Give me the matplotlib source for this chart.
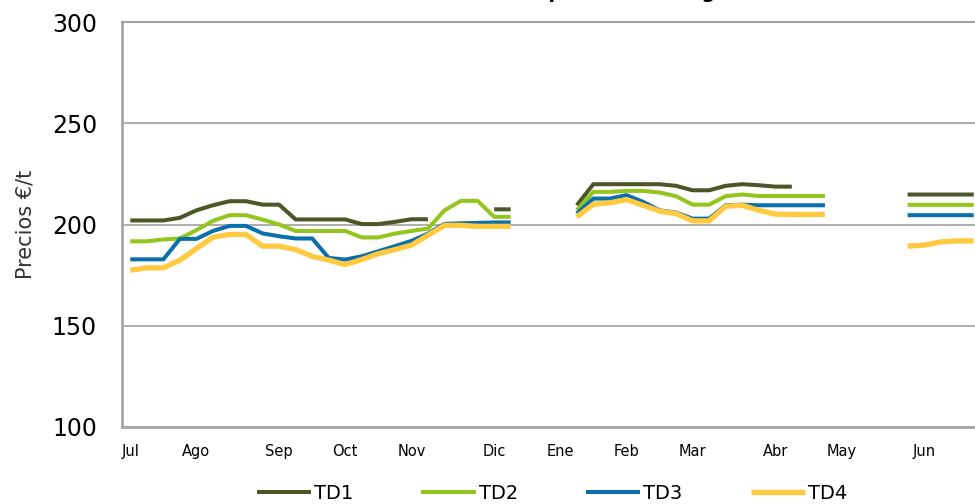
import matplotlib
matplotlib.use("Agg")
import matplotlib.pyplot as plt
import numpy as np

nan = np.nan

# weekly prices, campaign Jul -> Jun (52 weeks), gaps = no quotation
td1 = [202, 202, 202, 203.3, 207, 209.5, 211.5, 211.5, 209.8, 209.8,
       202.5, 202.5, 202.5, 202.5, 200.2, 200.2, 201.3, 202.6, 202.6, nan,
       nan, nan, 207.5, 207.5, nan, nan, nan, 209.5, 219.9, 219.9,
       219.9, 219.9, 219.9, 219.1, 216.9, 216.9, 219.1, 219.9, 219.4, 218.7,
       218.7, nan, nan, nan, nan, nan, nan, 214.8, 214.8, 214.8,
       214.8, 214.8]
td2 = [191.7, 191.7, 192.6, 193.1, 197.2, 201.8, 204.6, 204.6, 202.4, 200,
       196.8, 196.8, 196.8, 196.8, 193.6, 193.6, 195.5, 196.8, 198, 207,
       211.7, 211.7, 203.8, 203.8, nan, nan, nan, 207, 216.1, 216.1,
       216.6, 216.6, 215.8, 214, 209.8, 209.8, 214, 214.8, 214.1, 214.1,
       214.1, 214.1, 214.1, nan, nan, nan, nan, 209.7, 209.7, 209.7,
       209.7, 209.7]
td3 = [182.8, 182.8, 182.8, 192.9, 192.9, 196.8, 199.3, 199.3, 195.6, 194.2,
       193.1, 193.1, 183.5, 182.7, 184.3, 186.8, 189.3, 191.9, 195.5, 200.3,
       200.6, 200.8, 201, 201, nan, nan, nan, 205.4, 212.8, 212.8,
       214.5, 211.2, 207, 205.9, 202.9, 202.9, 209.5, 209.8, 209.5, 209.5,
       209.5, 209.5, 209.5, nan, nan, nan, nan, 204.6, 204.6, 204.6,
       204.6, 204.6]
td4 = [177.4, 178.6, 178.6, 182.4, 188.1, 193.7, 195.1, 195.1, 189.3, 189.3,
       187.6, 184.3, 182.4, 180.2, 182.7, 185.6, 187.6, 189.8, 194.7, 199.6,
       199.6, 199.1, 199.1, 199.1, nan, nan, nan, 203.8, 210, 210.7,
       212.3, 209.5, 206.6, 205.4, 201.8, 201.8, 209, 209.5, 207, 205.1,
       204.9, 204.9, 204.9, nan, nan, nan, nan, 189.3, 189.8, 191.4,
       191.9, 191.9]

month_labels = ["Jul", "Ago", "Sep", "Oct", "Nov", "Dic",
                "Ene", "Feb", "Mar", "Abr", "May", "Jun"]
month_weeks = [0, 4, 9, 13, 17, 22, 26, 30, 34, 39, 43, 48]

series = [("TD1", td1, "#4b5727", 2.9),
          ("TD2", td2, "#93c61c", 2.9),
          ("TD3", td3, "#0a6fab", 2.9),
          ("TD4", td4, "#ffca40", 3.8)]

fig = plt.figure(figsize=(9.75, 5.04), dpi=100)
# the plot area runs past the right edge of the picture, like the original crop
ax = fig.add_axes([122 / 975, 77 / 504, 860 / 975, 405 / 504])

weeks = np.arange(len(td1))
for name, vals, col, lw in series:
    ax.plot(weeks, vals, color=col, lw=lw, label=name, solid_capstyle="butt")

ax.set_xlim(-0.5, 51.5)
ax.set_ylim(100, 300)
ax.set_yticks([100, 150, 200, 250, 300])
ax.set_xticks(month_weeks)
ax.set_xticklabels(month_labels, fontsize=10.5)
ax.tick_params(axis="y", labelsize=17, pad=18, length=0)
ax.tick_params(axis="x", pad=12, length=0)
ax.yaxis.grid(True, color="#a0a0a0", lw=1.2)
ax.set_axisbelow(True)
for side in ["left", "bottom"]:
    ax.spines[side].set_color("#a6a6a6")
    ax.spines[side].set_linewidth(2)
ax.spines["top"].set_color("#a0a0a0")
ax.spines["top"].set_linewidth(1.5)
ax.spines["right"].set_visible(False)
ax.set_ylabel("Precios €/t", fontsize=15, labelpad=12, color="#333333")

ax.legend(loc="center", bbox_to_anchor=(0.5, -0.163), ncol=4, frameon=False,
          fontsize=14, handlelength=2.8, handletextpad=0.15, columnspacing=3.5)

# title sits above the crop, only its descenders show
fig.text(0.412, 1.004, "Evolución de precios del trigo duro", ha="left",
         va="baseline", fontsize=14, weight="bold")

fig.savefig("out.png", dpi=100)
